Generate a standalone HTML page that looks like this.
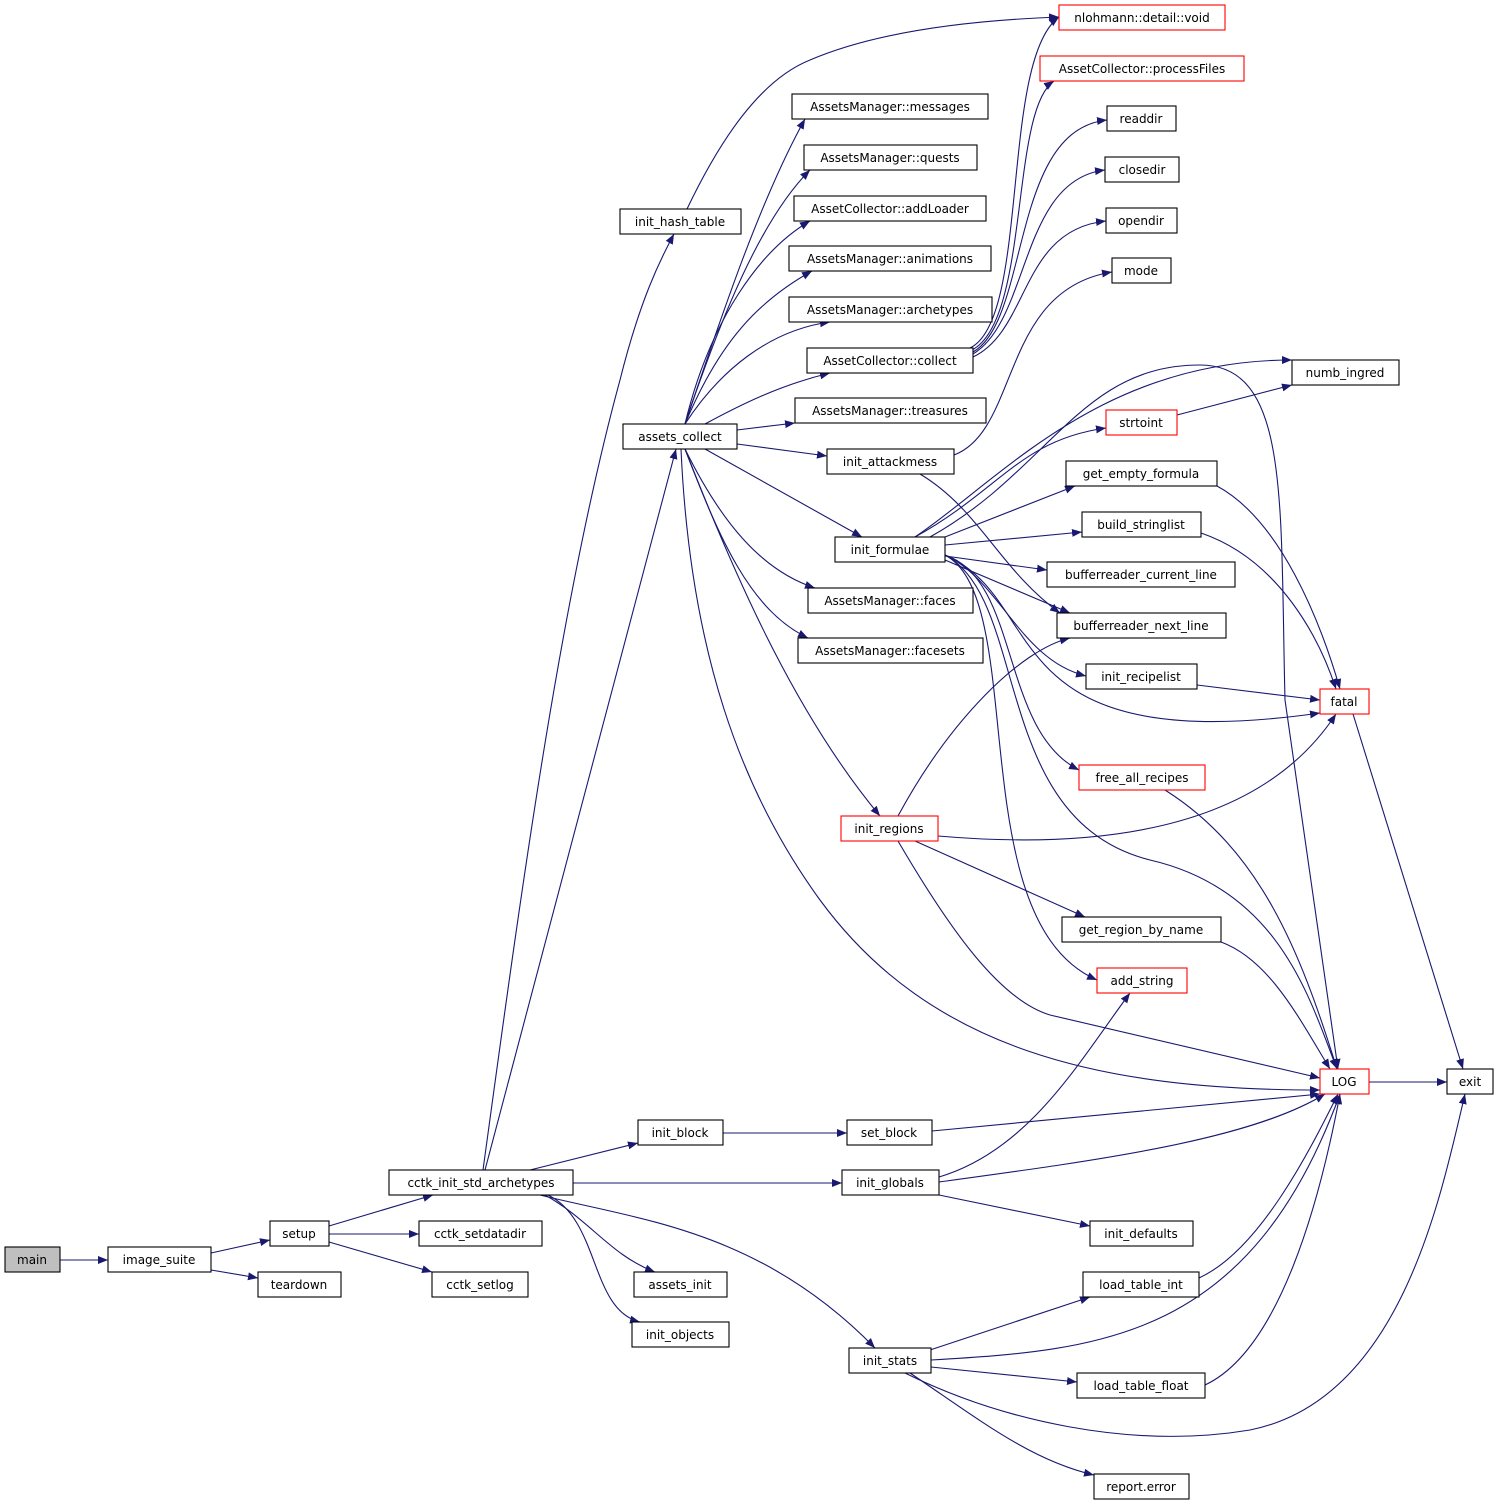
<!DOCTYPE html>
<html><head><meta charset="utf-8"><style>
html,body{margin:0;padding:0;background:#fff;}
svg text{font-family:"DejaVu Sans","Liberation Sans",sans-serif;font-size:12px;fill:#000;}
</style></head><body>
<svg width="1499" height="1507" viewBox="0 0 1499 1507" xmlns="http://www.w3.org/2000/svg">
<defs><marker id="a" viewBox="0 0 10 10" refX="10" refY="5" markerWidth="10" markerHeight="10" markerUnits="userSpaceOnUse" orient="auto"><path d="M0,1 L10,5 L0,9 z" fill="#191970"/></marker></defs>
<g fill="none" stroke="#191970" stroke-width="1.1" marker-end="url(#a)">
<path d="M60,1260 L108,1260"/>
<path d="M211,1253 L270,1240"/>
<path d="M211,1270 L258,1278"/>
<path d="M329,1226 L433,1195"/>
<path d="M329,1234 L419,1234"/>
<path d="M329,1242 L432,1272"/>
<path d="M483,1170 C520,900 560,600 620,380 C640,300 660,260 674,234"/>
<path d="M485,1170 L676,449"/>
<path d="M530,1170 L638,1143"/>
<path d="M573,1183 L842,1183"/>
<path d="M545,1195 C590,1220 610,1255 655,1272"/>
<path d="M548,1195 C600,1220 590,1310 640,1322"/>
<path d="M540,1195 C640,1220 760,1230 875,1348"/>
<path d="M687,209 C720,140 760,80 810,60 C880,30 980,20 1059,17"/>
<path d="M685,424 C720,320 760,200 805,119"/>
<path d="M685,424 C720,320 760,220 810,170"/>
<path d="M685,424 C710,320 760,250 810,221"/>
<path d="M685,424 C720,340 760,300 812,271"/>
<path d="M685,424 C720,370 770,330 830,322"/>
<path d="M705,424 C740,405 780,385 830,373"/>
<path d="M737,430 L795,423"/>
<path d="M737,444 L827,456"/>
<path d="M705,449 L862,537"/>
<path d="M685,449 C720,520 760,570 815,588"/>
<path d="M685,449 C720,540 750,610 808,638"/>
<path d="M685,449 C740,590 800,720 880,816"/>
<path d="M681,449 C690,650 740,790 820,900 C930,1050 1100,1090 1320,1090"/>
<path d="M970,348 C1030,320 1000,60 1059,17"/>
<path d="M972,350 C1030,320 1010,110 1054,81"/>
<path d="M973,352 C1030,320 1010,130 1107,120"/>
<path d="M973,354 C1030,320 1020,180 1105,170"/>
<path d="M973,357 C1030,330 1020,230 1106,221"/>
<path d="M954,455 C1020,430 1000,290 1112,272"/>
<path d="M920,474 C980,510 1000,570 1060,613"/>
<path d="M915,537 C1000,490 1020,440 1106,428"/>
<path d="M945,537 L1075,486"/>
<path d="M945,545 L1082,532"/>
<path d="M945,556 L1047,570"/>
<path d="M945,560 L1070,613"/>
<path d="M945,555 C1000,580 1020,660 1086,676"/>
<path d="M945,555 C1050,600 990,760 1320,713"/>
<path d="M945,555 C1020,580 1000,730 1079,770"/>
<path d="M915,537 C1000,480 1100,360 1292,360"/>
<path d="M945,555 C1030,600 990,820 1150,860 C1280,890 1310,1000 1337,1069"/>
<path d="M945,555 C1030,600 960,920 1097,980"/>
<path d="M930,537 C1050,470 1080,365 1200,365 C1290,365 1280,500 1285,700 L1338,1069"/>
<path d="M1177,415 L1292,385"/>
<path d="M1217,486 C1280,520 1320,620 1340,689"/>
<path d="M1201,533 C1280,560 1320,640 1336,689"/>
<path d="M1197,685 L1320,700"/>
<path d="M1353,714 L1463,1069"/>
<path d="M1165,790 C1260,850 1300,950 1337,1069"/>
<path d="M938,836 C1100,850 1260,830 1336,714"/>
<path d="M898,816 C950,720 1020,650 1070,638"/>
<path d="M915,841 L1085,917"/>
<path d="M898,841 C950,930 1000,1000 1050,1015 L1320,1078"/>
<path d="M1221,942 C1270,960 1300,1020 1330,1069"/>
<path d="M1369,1082 L1447,1082"/>
<path d="M932,1131 L1320,1094"/>
<path d="M723,1133 L847,1133"/>
<path d="M939,1177 C1030,1150 1080,1060 1130,993"/>
<path d="M939,1182 C1100,1160 1250,1140 1325,1094"/>
<path d="M939,1195 L1090,1226"/>
<path d="M930,1350 L1090,1297"/>
<path d="M931,1360 C1100,1350 1250,1340 1340,1094"/>
<path d="M931,1367 L1077,1382"/>
<path d="M905,1373 C1000,1420 1130,1450 1250,1430 C1400,1400 1440,1200 1465,1094"/>
<path d="M910,1373 C980,1420 1030,1460 1094,1475"/>
<path d="M1199,1278 C1260,1250 1310,1150 1338,1094"/>
<path d="M1205,1385 C1280,1350 1320,1200 1340,1094"/>
</g>
<g stroke-width="1.1">
<rect x="5" y="1247" width="55" height="25" fill="#bfbfbf" stroke="#000"/>
<g fill="#fff" stroke="#000">
<rect x="108" y="1247" width="103" height="25"/>
<rect x="270" y="1221" width="59" height="25"/>
<rect x="258" y="1272" width="83" height="25"/>
<rect x="389" y="1170" width="184" height="25"/>
<rect x="419" y="1221" width="123" height="25"/>
<rect x="432" y="1272" width="96" height="25"/>
<rect x="620" y="209" width="121" height="25"/>
<rect x="623" y="424" width="114" height="25"/>
<rect x="638" y="1120" width="85" height="25"/>
<rect x="634" y="1272" width="93" height="25"/>
<rect x="632" y="1322" width="97" height="25"/>
<rect x="792" y="94" width="196" height="25"/>
<rect x="804" y="145" width="173" height="25"/>
<rect x="794" y="196" width="192" height="25"/>
<rect x="789" y="246" width="202" height="25"/>
<rect x="789" y="297" width="203" height="25"/>
<rect x="807" y="348" width="166" height="25"/>
<rect x="795" y="398" width="191" height="25"/>
<rect x="827" y="449" width="127" height="25"/>
<rect x="835" y="537" width="110" height="25"/>
<rect x="808" y="588" width="165" height="25"/>
<rect x="798" y="638" width="185" height="25"/>
<rect x="847" y="1120" width="85" height="25"/>
<rect x="842" y="1170" width="97" height="25"/>
<rect x="849" y="1348" width="82" height="25"/>
<rect x="1107" y="106" width="69" height="25"/>
<rect x="1105" y="157" width="74" height="25"/>
<rect x="1106" y="208" width="71" height="25"/>
<rect x="1112" y="258" width="59" height="25"/>
<rect x="1292" y="360" width="107" height="25"/>
<rect x="1066" y="461" width="151" height="25"/>
<rect x="1082" y="512" width="119" height="25"/>
<rect x="1047" y="562" width="188" height="25"/>
<rect x="1057" y="613" width="169" height="25"/>
<rect x="1086" y="664" width="111" height="25"/>
<rect x="1062" y="917" width="159" height="25"/>
<rect x="1447" y="1069" width="46" height="25"/>
<rect x="1090" y="1221" width="103" height="25"/>
<rect x="1083" y="1272" width="116" height="25"/>
<rect x="1077" y="1373" width="128" height="25"/>
<rect x="1094" y="1474" width="95" height="25"/>
</g>
<g fill="#fff" stroke="#ff0000">
<rect x="1059" y="5" width="166" height="25"/>
<rect x="1040" y="56" width="204" height="25"/>
<rect x="1106" y="410" width="71" height="25"/>
<rect x="1320" y="689" width="49" height="25"/>
<rect x="1079" y="765" width="126" height="25"/>
<rect x="841" y="816" width="97" height="25"/>
<rect x="1097" y="968" width="90" height="25"/>
<rect x="1320" y="1069" width="49" height="25"/>
</g>
</g>
<g text-anchor="middle">
<text x="32" y="1264">main</text>
<text x="159" y="1264">image_suite</text>
<text x="299" y="1238">setup</text>
<text x="299" y="1289">teardown</text>
<text x="481" y="1187">cctk_init_std_archetypes</text>
<text x="480" y="1238">cctk_setdatadir</text>
<text x="480" y="1289">cctk_setlog</text>
<text x="680" y="226">init_hash_table</text>
<text x="680" y="441">assets_collect</text>
<text x="680" y="1137">init_block</text>
<text x="680" y="1289">assets_init</text>
<text x="680" y="1339">init_objects</text>
<text x="890" y="111">AssetsManager::messages</text>
<text x="890" y="162">AssetsManager::quests</text>
<text x="890" y="213">AssetCollector::addLoader</text>
<text x="890" y="263">AssetsManager::animations</text>
<text x="890" y="314">AssetsManager::archetypes</text>
<text x="890" y="365">AssetCollector::collect</text>
<text x="890" y="415">AssetsManager::treasures</text>
<text x="890" y="466">init_attackmess</text>
<text x="890" y="554">init_formulae</text>
<text x="890" y="605">AssetsManager::faces</text>
<text x="890" y="655">AssetsManager::facesets</text>
<text x="889" y="833">init_regions</text>
<text x="889" y="1137">set_block</text>
<text x="890" y="1187">init_globals</text>
<text x="890" y="1365">init_stats</text>
<text x="1142" y="22">nlohmann::detail::void</text>
<text x="1142" y="73">AssetCollector::processFiles</text>
<text x="1141" y="123">readdir</text>
<text x="1142" y="174">closedir</text>
<text x="1141" y="225">opendir</text>
<text x="1141" y="275">mode</text>
<text x="1345" y="377">numb_ingred</text>
<text x="1141" y="427">strtoint</text>
<text x="1141" y="478">get_empty_formula</text>
<text x="1141" y="529">build_stringlist</text>
<text x="1141" y="579">bufferreader_current_line</text>
<text x="1141" y="630">bufferreader_next_line</text>
<text x="1141" y="681">init_recipelist</text>
<text x="1344" y="706">fatal</text>
<text x="1142" y="782">free_all_recipes</text>
<text x="1141" y="934">get_region_by_name</text>
<text x="1142" y="985">add_string</text>
<text x="1344" y="1086">LOG</text>
<text x="1470" y="1086">exit</text>
<text x="1141" y="1238">init_defaults</text>
<text x="1141" y="1289">load_table_int</text>
<text x="1141" y="1390">load_table_float</text>
<text x="1141" y="1491">report.error</text>
</g>
</svg>
</body></html>
